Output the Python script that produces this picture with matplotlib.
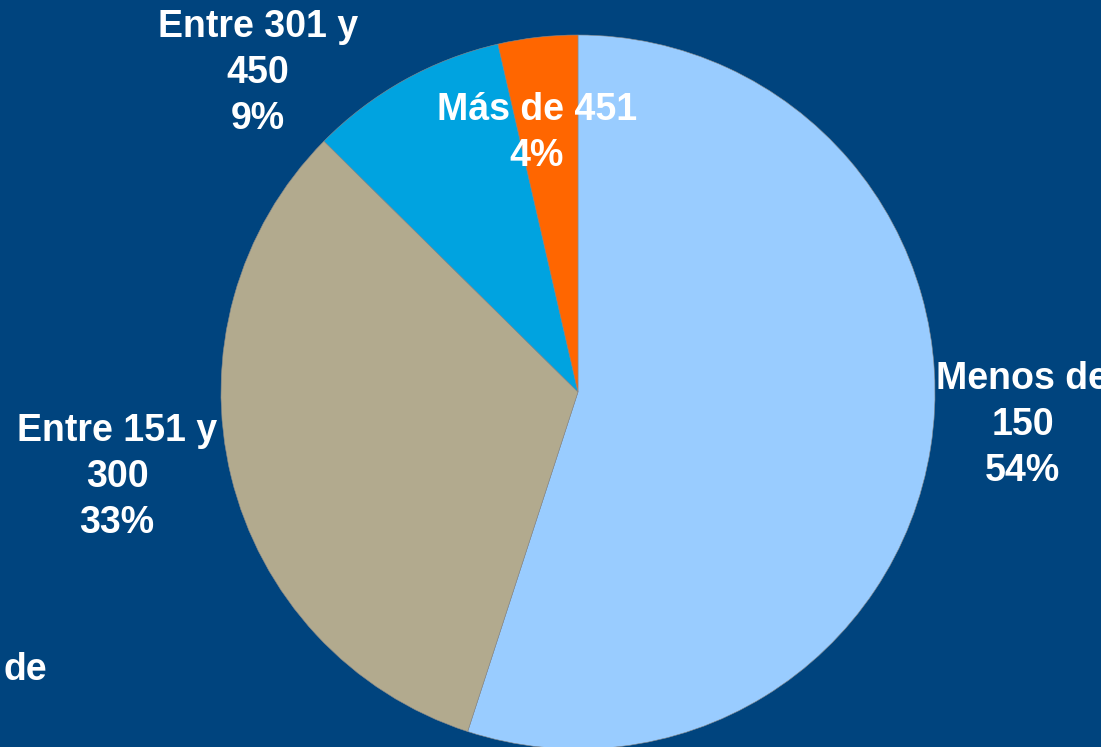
import matplotlib
matplotlib.use("Agg")
import matplotlib.pyplot as plt

plt.rcParams['font.family'] = ['Liberation Sans', 'DejaVu Sans']

categories = ["Menos de\n150", "Entre 151 y\n300", "Entre 301 y\n450", "Más de 451"]
values = [55.0, 32.4, 9.0, 3.6]
pct_labels = ["54%", "33%", "9%", "4%"]
colors = ["#99CCFF", "#B2AA8E", "#00A3E0", "#FF6600"]
bg = "#00447E"

# label centres in pie-radius units (centre of pie = 0,0)
label_pos = [(1.246, -0.092), (-1.291, -0.238), (-0.896, 0.894), (-0.115, 0.725)]

fig = plt.figure(figsize=(11.01, 7.47), dpi=100, facecolor=bg)
ax = fig.add_axes([0, 0, 1, 1])
ax.set_facecolor(bg)

ax.pie(values, colors=colors, startangle=90, counterclock=False, radius=1,
       center=(0, 0), frame=True,
       wedgeprops=dict(linewidth=0.4, edgecolor="#8c8c8c"))

ax.set_xlim(-578 / 357, (1101 - 578) / 357)
ax.set_ylim(-(747 - 392) / 357, 392 / 357)
ax.set_aspect('auto')
ax.axis('off')

for cat, pct, (x, y) in zip(categories, pct_labels, label_pos):
    ax.text(x, y, cat + "\n" + pct, ha='center', va='center', color='white',
            fontsize=27, fontweight='bold', linespacing=1.36, multialignment='center')

ax.text(-1.487, -0.779, "de", ha='right', va='center', color='white',
        fontsize=27, fontweight='bold')

fig.savefig("out.png", dpi=100, facecolor=bg)
